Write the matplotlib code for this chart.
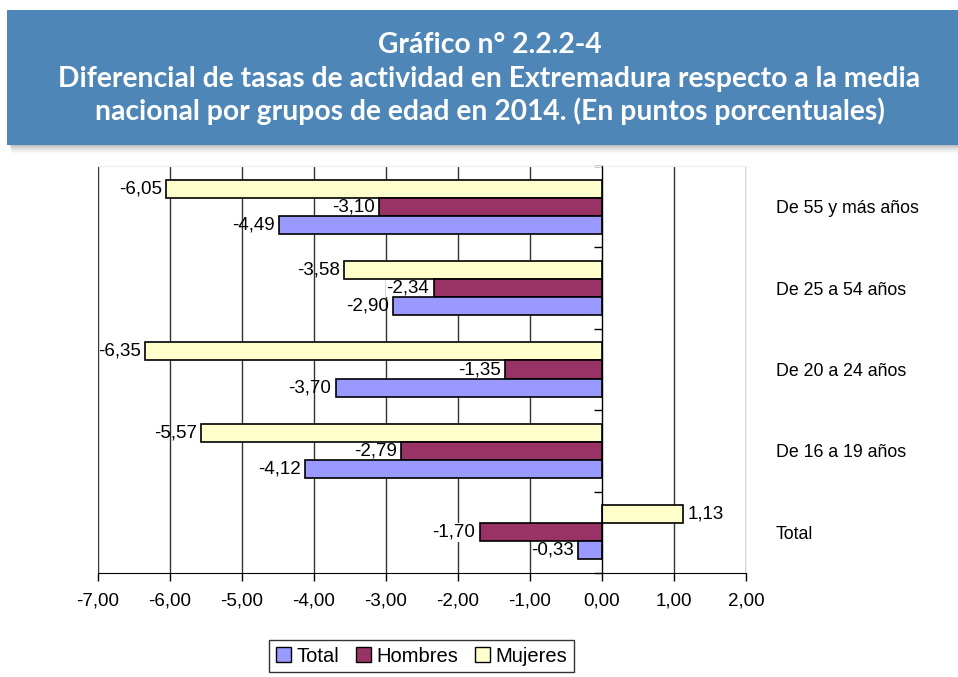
import numpy as np
import matplotlib
matplotlib.use("Agg")
import matplotlib.pyplot as plt
from matplotlib.patches import Rectangle, Patch
from matplotlib.ticker import FixedLocator

# Age groups, bottom to top as drawn
groups = ["Total", "De 16 a 19 años", "De 20 a 24 años", "De 25 a 54 años", "De 55 y más años"]
total = [-0.33, -4.12, -3.70, -2.90, -4.49]
hombres = [-1.70, -2.79, -1.35, -2.34, -3.10]
mujeres = [1.13, -5.57, -6.35, -3.58, -6.05]

x_ticks = [-7, -6, -5, -4, -3, -2, -1, 0, 1, 2]

c_total = "#9999FF"
c_hombres = "#993366"
c_mujeres = "#FFFFCC"

plt.rcParams["font.family"] = ["Liberation Sans", "DejaVu Sans"]

fig = plt.figure(figsize=(9.58, 6.77), dpi=100)

# Header band with a soft shadow
for k, a in enumerate([0.10, 0.08, 0.06, 0.04, 0.02]):
    fig.patches.append(Rectangle((0.009 + 0.001 * k, 0.784 - 0.003 * k), 1.0, 0.199,
                                 transform=fig.transFigure, facecolor="black",
                                 alpha=a, edgecolor="none", zorder=0))
fig.patches.append(Rectangle((0.0073, 0.786), 1.0, 0.1994, transform=fig.transFigure,
                             facecolor="#4F86B8", edgecolor="none", zorder=1))
title_font = dict(family=["Lato", "DejaVu Sans"], weight="bold", color="white",
                  ha="center", va="center", fontsize=20.3)
fig.text(0.511, 0.934, "Gráfico n° 2.2.2-4", **title_font)
fig.text(0.511, 0.884, "Diferencial de tasas de actividad en Extremadura respecto a la media", **title_font)
fig.text(0.511, 0.836, "nacional por grupos de edad en 2014. (En puntos porcentuales)", **title_font)

ax = fig.add_axes([0.1023, 0.1536, 0.6764, 0.6012])

y = np.arange(len(groups))
h = 0.222
b_m = ax.barh(y + h, mujeres, height=h, color=c_mujeres, edgecolor="black", linewidth=1.2, zorder=3)
b_h = ax.barh(y, hombres, height=h, color=c_hombres, edgecolor="black", linewidth=1.2, zorder=3)
b_t = ax.barh(y - h, total, height=h, color=c_total, edgecolor="black", linewidth=1.2, zorder=3)

def fmt(v):
    return f"{v:.2f}".replace(".", ",")

fs = 13.5
ax.bar_label(b_m, labels=[fmt(v) for v in mujeres], padding=3, fontsize=fs, zorder=4)
ax.bar_label(b_t, labels=[fmt(v) for v in total], padding=3, fontsize=fs, zorder=4)
# Hombres labels sit on a white box, tucked under the neighbouring bars
lab_h = ax.bar_label(b_h, labels=[fmt(v) for v in hombres], padding=3, fontsize=fs, zorder=2.5)
for t in lab_h:
    t.set_bbox(dict(facecolor="white", edgecolor="none", pad=0.5))

ax.set_xlim(-7, 2)
ax.set_ylim(-0.5, len(groups) - 0.5)
ax.set_xticks(x_ticks)
ax.set_xticklabels([fmt(v) for v in x_ticks], fontsize=fs)
ax.xaxis.grid(True, color="#333333", linewidth=1.0, zorder=0)
ax.set_axisbelow(True)
ax.tick_params(axis="x", direction="out", length=6, width=1, color="black", pad=8)

# Category labels on the right, boundary ticks on the zero line
ax.set_yticks(y)
ax.set_yticklabels(groups)
ax.yaxis.set_minor_locator(FixedLocator(np.arange(len(groups) + 1) - 0.5))
ax.spines["left"].set_position(("data", 0))
ax.tick_params(axis="y", which="major", left=False, right=False,
               labelleft=False, labelright=True, pad=18, labelsize=12.8)
ax.tick_params(axis="y", which="minor", left=True, right=False, direction="out",
               length=6, width=1, color="black")

ax.spines["left"].set_color("black")
ax.spines["left"].set_zorder(5)
ax.spines["bottom"].set_color("black")
ax.spines["top"].set_color("#eeeeee")
ax.spines["right"].set_color("#eeeeee")

handles = [Patch(facecolor=c_total, edgecolor="black", label="Total"),
           Patch(facecolor=c_hombres, edgecolor="black", label="Hombres"),
           Patch(facecolor=c_mujeres, edgecolor="black", label="Mujeres")]
leg = fig.legend(handles=handles, loc="center", bbox_to_anchor=(0.44, 0.031), ncol=3,
                 fontsize=14.5, frameon=True, fancybox=False, edgecolor="black",
                 handlelength=0.75, handleheight=0.75, handletextpad=0.3,
                 columnspacing=0.8, borderpad=0.3, borderaxespad=0)
leg.get_frame().set_linewidth(1.0)

fig.savefig("out.png", dpi=100)
